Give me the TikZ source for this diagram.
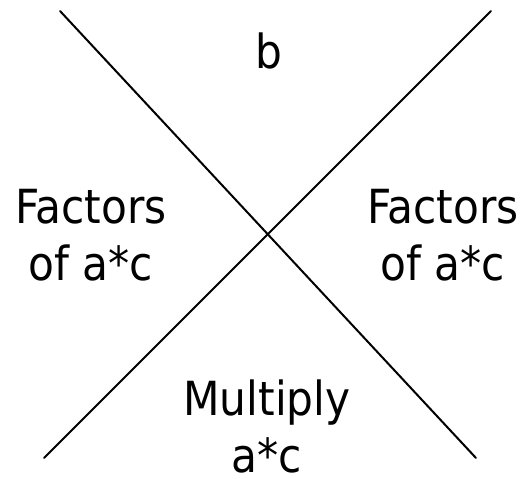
\documentclass[tikz,border=0pt]{standalone}
\usepackage{fontspec}
\setmainfont{DejaVu Sans Condensed}
\usepackage{tikz}
\usetikzlibrary{positioning}
\tikzset{%
  cornertext/.style={align=center,inner sep=0pt,font=\fontsize{47}{57}\selectfont},
  cross/.style={line width=2pt, line cap=round}%
}

\begin{document}
\begin{tikzpicture}[x=1pt,y=-1pt]
\useasboundingbox (0,0) rectangle (528,479);

% ends of the two diagonals
\coordinate (tl) at (60,11);
\coordinate (br) at (476,458);
\coordinate (tr) at (491,11);
\coordinate (bl) at (44,458);

\draw[cross] (tl) -- (br);
\draw[cross] (tr) -- (bl);

% the four corners of the X (base = last line)
\node[cornertext, anchor=base] (top) at (269,68) {b};
\node[cornertext, anchor=base] (left) at (91,280) {Factors\\of a*c};
\node[cornertext, anchor=base] (right) at (443,280) {Factors\\of a*c};
\node[cornertext, anchor=base] (bottom) at (267,472) {Multiply\\a*c};

\end{tikzpicture}
\end{document}
